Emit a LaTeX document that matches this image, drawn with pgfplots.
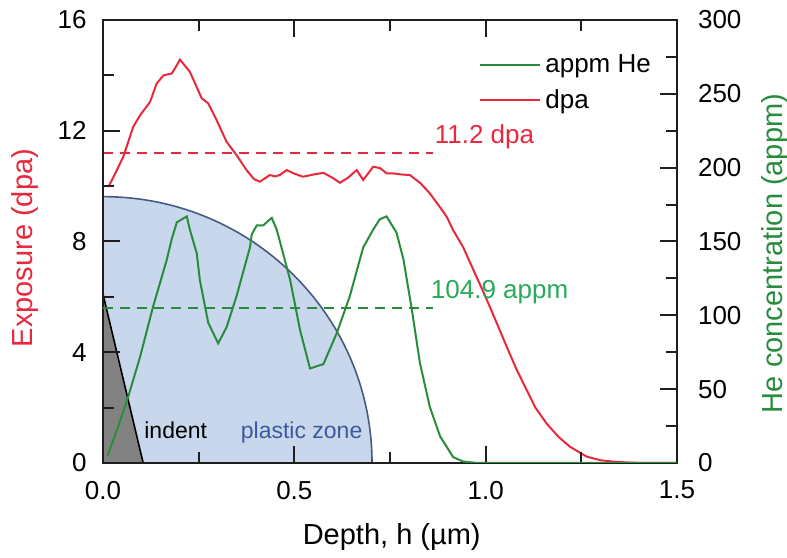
\documentclass[border=0pt]{standalone}
\usepackage{pgfplots}
\pgfplotsset{compat=1.18}
\usepackage{fontspec}
\setmainfont{Liberation Sans}
\definecolor{dpared}{RGB}{232,40,60}
\definecolor{hegreen}{RGB}{40,140,60}
\definecolor{helabel}{RGB}{40,170,90}
\definecolor{pzfill}{RGB}{200,215,235}
\definecolor{pzedge}{RGB}{70,90,130}
\definecolor{pztext}{RGB}{60,90,160}
\definecolor{indentfill}{RGB}{130,130,130}
\definecolor{axcol}{RGB}{30,30,30}

\pgfplotstableread{
x dpa
0.000 10.00
0.015 10.00
0.030 10.40
0.053 11.06
0.079 12.14
0.097 12.56
0.123 13.04
0.140 13.70
0.158 14.00
0.180 14.07
0.190 14.30
0.201 14.57
0.227 14.13
0.258 13.17
0.275 12.99
0.297 12.38
0.323 11.60
0.349 11.12
0.375 10.58
0.395 10.25
0.410 10.16
0.436 10.40
0.450 10.35
0.462 10.40
0.480 10.58
0.500 10.45
0.523 10.34
0.550 10.42
0.576 10.48
0.600 10.30
0.619 10.12
0.640 10.30
0.663 10.58
0.680 10.22
0.706 10.70
0.724 10.65
0.741 10.46
0.759 10.46
0.780 10.42
0.802 10.40
0.830 10.10
0.854 9.74
0.880 9.25
0.898 8.90
0.915 8.41
0.941 7.80
0.968 6.97
0.990 6.30
1.011 5.64
1.055 4.20
1.080 3.40
1.107 2.64
1.130 2.00
1.159 1.43
1.190 0.95
1.220 0.59
1.264 0.23
1.300 0.10
1.333 0.05
1.380 0.01
1.500 0.00
}\dpadata

\pgfplotstableread{
x appm
0.012 5
0.040 25
0.066 45
0.097 72
0.131 106
0.166 137
0.180 152
0.193 163
0.219 167
0.227 158
0.245 142
0.253 124
0.275 95
0.301 81
0.323 92
0.349 113
0.384 146
0.389 155
0.402 161
0.419 161
0.441 166
0.454 158
0.489 124
0.515 90
0.541 64
0.576 67
0.611 88
0.645 113
0.680 146
0.706 158
0.723 165
0.741 167
0.767 156
0.785 138
0.807 104
0.828 68
0.854 38
0.881 18
0.915 4
0.941 1
0.980 0
1.500 0
}\hedata

\pgfplotsset{
  base/.style={
    width=287pt, height=221.5pt, scale only axis,
    at={(0,0)}, anchor=south west,
    xmin=0, xmax=1.5,
    /pgf/number format/assume math mode=true,
    tick label style={font=\fontsize{13}{15}\selectfont},
    label style={font=\fontsize{14.5}{17}\selectfont},
    tick align=inside,
    major tick length=8.5pt, minor tick length=5.5pt,
    axis line style={line width=1pt, axcol},
    tick style={line width=1pt, axcol},
  }
}

\begin{document}
\begin{tikzpicture}
\begin{axis}[base,
  ymin=0, ymax=16,
  ytick={0,4,8,12,16}, minor ytick={2,6,10,14},
  xtick={0,0.5,1,1.5}, minor xtick={0.25,0.75,1.25},
  xticklabels={0.0,0.5,1.0,1.5},
  ytick pos=left,
  axis on top,
  xticklabel style={yshift=-5.5pt},
  yticklabel style={xshift=-4.7pt},
  xlabel={Depth, h (µm)},
  xlabel style={at={(axis description cs:0.503,-0.185)}, anchor=base},
  ylabel={Exposure (dpa)},
  ylabel style={at={(axis description cs:-0.136,0.485)}, anchor=center, text=dpared},
]
\draw[pzedge, fill=pzfill, line width=0.8pt] (axis cs:0,0) ellipse [x radius=0.703, y radius=9.62];
\filldraw[fill=indentfill, draw=black, line width=0.8pt] (axis cs:0,0) -- (axis cs:0,6.1) -- (axis cs:0.105,0) -- cycle;
\addplot[dpared, line width=1pt] table[x=x, y=dpa] {\dpadata};
\addplot[dpared, line width=1pt, dash pattern=on 5pt off 3.5pt] coordinates {(0,11.2) (0.862,11.2)};
\node[anchor=base west, text=dpared, font=\fontsize{13}{15}\selectfont, inner sep=0pt] at (axis cs:0.866,11.55) {11.2 dpa};
\node[anchor=base, text=black, font=\fontsize{11.5}{13}\selectfont, inner sep=0pt] at (axis cs:0.19,0.9) {indent};
\node[anchor=base, text=pztext, font=\fontsize{11.5}{13}\selectfont, inner sep=0pt] at (axis cs:0.519,0.9) {plastic zone};
\end{axis}
\begin{axis}[base,
  ymin=0, ymax=300,
  axis y line*=right, axis x line=none,
  ytick={0,50,...,300}, minor ytick={25,75,...,275},
  yticklabel style={xshift=7pt},
  ylabel={He concentration (appm)},
  ylabel style={at={(axis description cs:1.1707,0.473)}, anchor=center, text=hegreen, rotate=0},
  legend style={at={(rel axis cs:0.655,0.932)}, anchor=north west, draw=none, fill=none,
    font=\fontsize{13}{15}\selectfont, row sep=3pt, inner sep=0pt,
    nodes={inner sep=2pt}},
  legend cell align=left,
  legend image code/.code={\draw[#1] (0pt,0pt) -- (30pt,0pt);},
]
\addplot[hegreen, line width=1pt] table[x=x, y=appm] {\hedata};
\addlegendentry{appm He}
\addlegendimage{dpared, line width=1pt}
\addlegendentry{dpa}
\addplot[hegreen, line width=1pt, dash pattern=on 5pt off 3.5pt, forget plot] coordinates {(0,104.9) (0.862,104.9)};
\node[anchor=base west, text=helabel, font=\fontsize{13}{15}\selectfont, inner sep=0pt] at (axis cs:0.856,111.7) {104.9 appm};
\end{axis}
\pgfresetboundingbox
\path[use as bounding box] (-51.5pt,-47pt) rectangle (342pt,231.5pt);
\end{tikzpicture}
\end{document}
